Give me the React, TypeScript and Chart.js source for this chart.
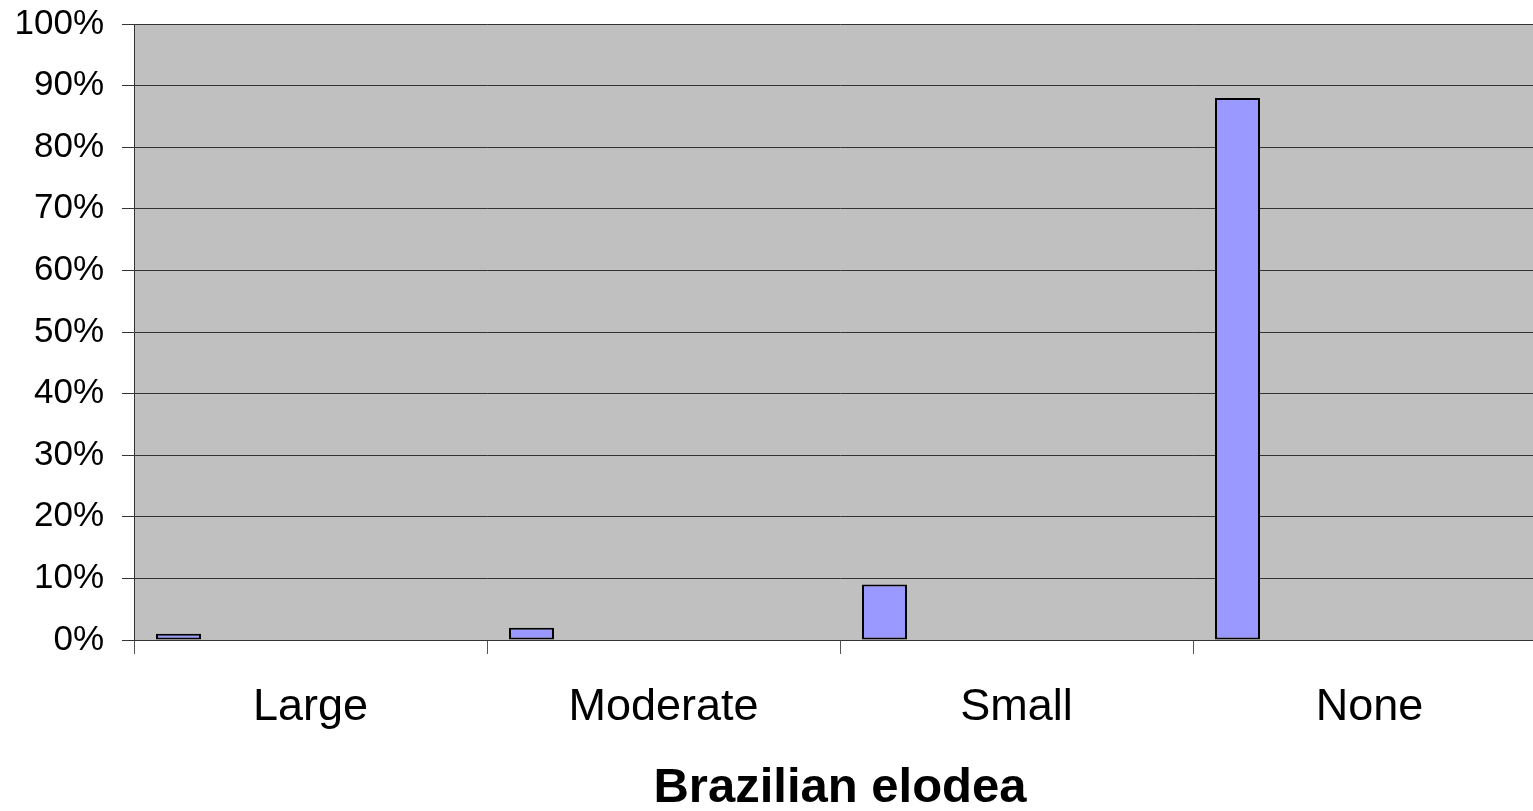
import React, { useEffect, useRef } from 'react';
import { Chart, registerables } from 'chart.js';

Chart.register(...registerables);

const categories = ['Large', 'Moderate', 'Small', 'None'];
const percentValues = [1, 2, 9, 88];
const yTicks = [0, 10, 20, 30, 40, 50, 60, 70, 80, 90, 100];
const axisTitle = 'Brazilian elodea';
// empty series slots of the clustered layout (no values)
const emptySeries = [
  [null, null, null, null],
  [null, null, null, null],
  [null, null, null, null],
  [null, null, null, null],
  [null, null, null, null],
];

const FONT = "'Liberation Sans', Arial, sans-serif";

const plotBg = {
  id: 'plotBg',
  beforeDraw(chart: any) {
    const { ctx, chartArea } = chart;
    if (!chartArea) return;
    ctx.save();
    ctx.fillStyle = '#C0C0C0';
    ctx.fillRect(chartArea.left, chartArea.top, chartArea.right - chartArea.left, chartArea.bottom - chartArea.top);
    ctx.restore();
  },
};

export default function App() {
  const ref = useRef<HTMLCanvasElement | null>(null);

  useEffect(() => {
    if (!ref.current) return;
    const datasets: any[] = [
      {
        label: 'Share',
        data: percentValues,
        backgroundColor: '#9999FF',
        borderColor: '#000000',
        borderWidth: 2,
        borderSkipped: false,
        barPercentage: 0.852,
        categoryPercentage: 0.8975,
      },
      ...emptySeries.map((d, i) => ({
        label: 'empty' + i,
        data: d,
        backgroundColor: '#9999FF',
        barPercentage: 0.852,
        categoryPercentage: 0.8975,
      })),
    ];
    const chart = new Chart(ref.current, {
      type: 'bar',
      data: { labels: categories, datasets },
      plugins: [plotBg],
      options: {
        animation: false,
        responsive: false,
        devicePixelRatio: 1,
        layout: { padding: { top: 24, left: 0, right: 0, bottom: 0 } },
        plugins: {
          legend: { display: false },
          tooltip: { enabled: false },
        },
        scales: {
          x: {
            type: 'category',
            offset: true,
            grid: {
              offset: true,
              drawOnChartArea: false,
              drawTicks: true,
              tickLength: 14,
              color: '#555555',
            },
            border: { display: true, color: '#333333', width: 1 },
            ticks: {
              color: '#000000',
              font: { family: FONT, size: 45 },
              padding: 27,
              maxRotation: 0,
              autoSkip: false,
            },
            title: {
              display: true,
              text: axisTitle,
              color: '#000000',
              font: { family: FONT, size: 49, weight: 'bold' },
              padding: { top: 0, bottom: 12 },
            },
            afterFit: (s: any) => {
              s.height = 190;
            },
          },
          y: {
            min: 0,
            max: 100,
            afterBuildTicks: (s: any) => {
              s.ticks = yTicks.map((v) => ({ value: v }));
            },
            grid: {
              color: '#333333',
              lineWidth: 1,
              drawTicks: true,
              tickLength: 12,
            },
            border: { display: true, color: '#333333', width: 1 },
            ticks: {
              color: '#000000',
              font: { family: FONT, size: 35 },
              padding: 18,
              callback: (v: any) => v + '%',
            },
            afterFit: (s: any) => {
              s.width = 134;
              s.paddingTop = 0;
              s.paddingBottom = 0;
            },
          },
        },
      },
    });
    return () => chart.destroy();
  }, []);

  return (
    <div
      style={{
        position: 'fixed',
        left: 0,
        top: 0,
        width: 1533,
        height: 811,
        overflow: 'hidden',
        background: '#ffffff',
      }}
    >
      <canvas ref={ref} width={1546} height={830} style={{ width: 1546, height: 830, display: 'block' }} />
    </div>
  );
}
